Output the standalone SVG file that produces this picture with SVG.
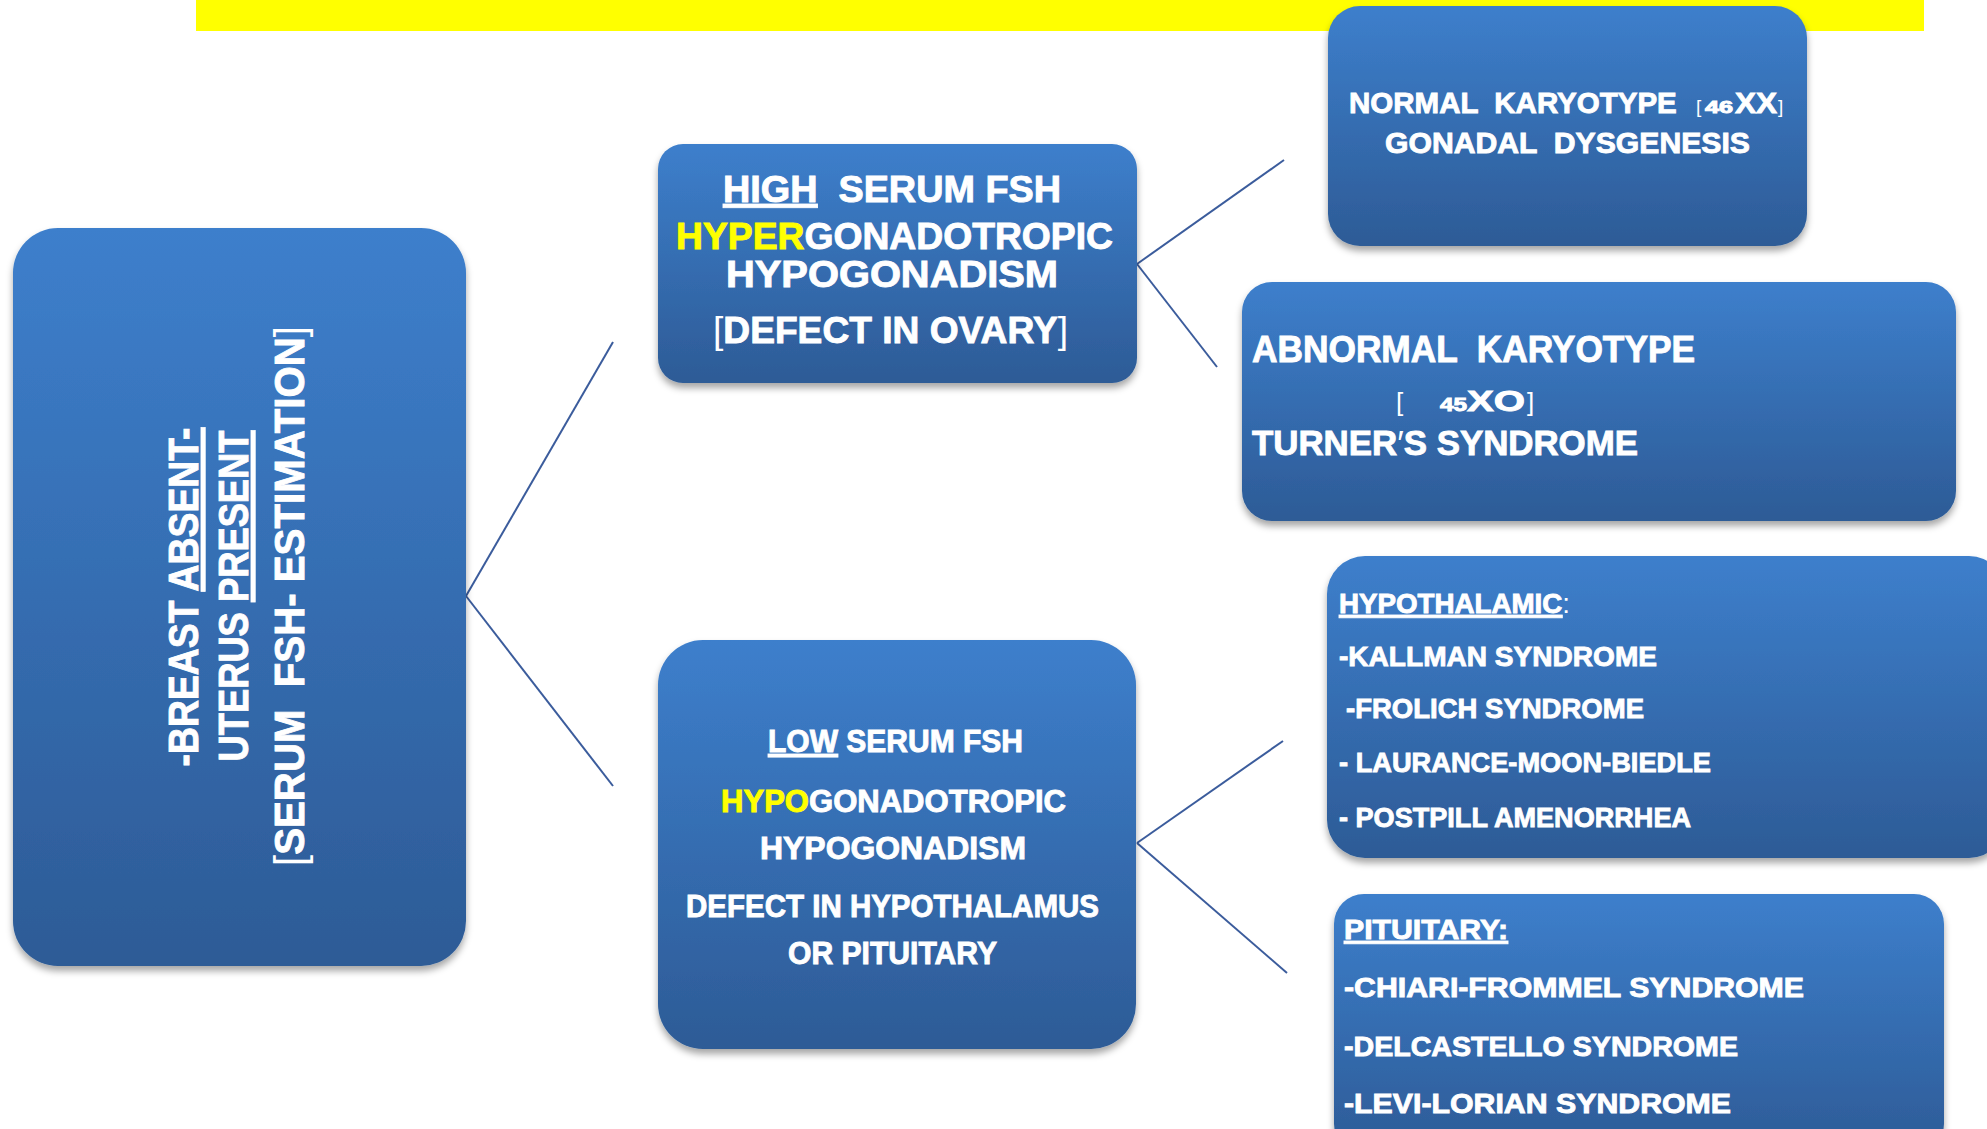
<svg xmlns="http://www.w3.org/2000/svg" width="1987" height="1129" viewBox="0 0 1987 1129">
<style>
text { font-family: "Liberation Sans", Arial, sans-serif; font-weight: bold; fill: #ffffff; stroke: #ffffff; stroke-width: 0.9; white-space: pre; }
.y { fill: #ffff00; stroke: #ffff00; }
.u { text-decoration: underline; }
.thin { font-weight: normal; stroke-width: 0; }
.box { fill: url(#g); filter: url(#sh); }
.conn { stroke: #3b5c9c; stroke-width: 2; fill: none; }
</style>
<defs>
<linearGradient id="g" x1="0" y1="0" x2="0" y2="1">
<stop offset="0" stop-color="#3d7fcc"/>
<stop offset="1" stop-color="#2d5b96"/>
</linearGradient>
<filter id="sh" x="-10%" y="-10%" width="120%" height="125%">
<feDropShadow dx="0" dy="5" stdDeviation="3.5" flood-color="#000" flood-opacity="0.35"/>
</filter>
</defs>
<rect x="196" y="0" width="1728" height="31" fill="#ffff00"/>
<g id="connectors">
<path class="conn" d="M466,596 L613,342"/>
<path class="conn" d="M466,596 L613,786"/>
<path class="conn" d="M1137,264 L1284,160"/>
<path class="conn" d="M1137,264 L1217,367"/>
<path class="conn" d="M1137,843 L1283,741"/>
<path class="conn" d="M1137,843 L1287,973"/>
</g>
<g id="root">
<rect class="box" x="13" y="228" width="453" height="738" rx="45"/>
<text transform="translate(198,597) rotate(-90)" text-anchor="middle" font-size="42" textLength="339" lengthAdjust="spacingAndGlyphs">-BREAST <tspan class="u">ABSENT-</tspan></text>
<text transform="translate(248,596) rotate(-90)" text-anchor="middle" font-size="42" textLength="331" lengthAdjust="spacingAndGlyphs">UTERUS <tspan class="u">PRESENT</tspan></text>
<text transform="translate(304,596) rotate(-90)" text-anchor="middle" font-size="42" textLength="540" lengthAdjust="spacingAndGlyphs"><tspan class="thin">[</tspan>SERUM  FSH- ESTIMATION<tspan class="thin">]</tspan></text>
</g>
<g id="high">
<rect class="box" x="658" y="144" width="479" height="239" rx="25"/>
<text x="723" y="202" font-size="37" textLength="338" lengthAdjust="spacingAndGlyphs"><tspan class="u">HIGH</tspan>  SERUM FSH</text>
<text x="676" y="249" font-size="37" textLength="437" lengthAdjust="spacingAndGlyphs"><tspan class="y">HYPER</tspan>GONADOTROPIC</text>
<text x="726" y="287" font-size="37" textLength="332" lengthAdjust="spacingAndGlyphs">HYPOGONADISM</text>
<text x="713" y="343" font-size="37" textLength="355" lengthAdjust="spacingAndGlyphs"><tspan class="thin">[</tspan>DEFECT IN OVARY<tspan class="thin">]</tspan></text>
</g>
<g id="normal">
<rect class="box" x="1328" y="6" width="479" height="240" rx="32"/>
<text y="113" font-size="30"><tspan x="1349" textLength="336" lengthAdjust="spacingAndGlyphs">NORMAL  KARYOTYPE </tspan><tspan x="1696" class="thin" font-size="19">[</tspan><tspan x="1705" font-size="16" textLength="28" lengthAdjust="spacingAndGlyphs">46</tspan><tspan x="1735" font-size="29" textLength="42" lengthAdjust="spacingAndGlyphs">XX</tspan><tspan x="1778" class="thin" font-size="19">]</tspan></text>
<text x="1385" y="153" font-size="30" textLength="365" lengthAdjust="spacingAndGlyphs">GONADAL  DYSGENESIS</text>
</g>
<g id="abnormal">
<rect class="box" x="1242" y="282" width="714" height="239" rx="30"/>
<text x="1252" y="362" font-size="36" textLength="443" lengthAdjust="spacingAndGlyphs">ABNORMAL  KARYOTYPE</text>
<text y="411" font-size="30"><tspan x="1396" class="thin" font-size="26">[</tspan><tspan x="1440" font-size="18" textLength="27" lengthAdjust="spacingAndGlyphs">45</tspan><tspan x="1467" textLength="58" lengthAdjust="spacingAndGlyphs">XO</tspan><tspan x="1527" class="thin" font-size="26">]</tspan></text>
<text x="1252" y="455" font-size="35" textLength="386" lengthAdjust="spacingAndGlyphs">TURNER<tspan class="thin">′</tspan>S SYNDROME</text>
</g>
<g id="hypothalamic">
<rect class="box" x="1327" y="556" width="680" height="302" rx="38"/>
<text x="1339" y="613" font-size="28" textLength="231" lengthAdjust="spacingAndGlyphs"><tspan class="u">HYPOTHALAMIC</tspan><tspan class="thin">:</tspan></text>
<text x="1339" y="666" font-size="28" textLength="318" lengthAdjust="spacingAndGlyphs">-KALLMAN SYNDROME</text>
<text x="1346" y="718" font-size="28" textLength="298" lengthAdjust="spacingAndGlyphs">-FROLICH SYNDROME</text>
<text x="1339" y="772" font-size="28" textLength="372" lengthAdjust="spacingAndGlyphs">- LAURANCE-MOON-BIEDLE</text>
<text x="1339" y="827" font-size="28" textLength="352" lengthAdjust="spacingAndGlyphs">- POSTPILL AMENORRHEA</text>
</g>
<g id="pituitary">
<rect class="box" x="1334" y="894" width="610" height="260" rx="30"/>
<text x="1344" y="939" font-size="28" textLength="164" lengthAdjust="spacingAndGlyphs"><tspan class="u">PITUITARY:</tspan></text>
<text x="1344" y="997" font-size="28" textLength="460" lengthAdjust="spacingAndGlyphs">-CHIARI-FROMMEL SYNDROME</text>
<text x="1344" y="1056" font-size="28" textLength="394" lengthAdjust="spacingAndGlyphs">-DELCASTELLO SYNDROME</text>
<text x="1344" y="1113" font-size="28" textLength="387" lengthAdjust="spacingAndGlyphs">-LEVI-LORIAN SYNDROME</text>
</g>
<g id="low">
<rect class="box" x="658" y="640" width="478" height="409" rx="45"/>
<text x="768" y="752" font-size="31" textLength="255" lengthAdjust="spacingAndGlyphs"><tspan class="u">LOW</tspan> SERUM FSH</text>
<text x="721" y="812" font-size="31" textLength="345" lengthAdjust="spacingAndGlyphs"><tspan class="y">HYPO</tspan>GONADOTROPIC</text>
<text x="760" y="859" font-size="31" textLength="266" lengthAdjust="spacingAndGlyphs">HYPOGONADISM</text>
<text x="686" y="917" font-size="31" textLength="413" lengthAdjust="spacingAndGlyphs">DEFECT IN HYPOTHALAMUS</text>
<text x="788" y="964" font-size="31" textLength="209" lengthAdjust="spacingAndGlyphs">OR PITUITARY</text>
</g>
</svg>
